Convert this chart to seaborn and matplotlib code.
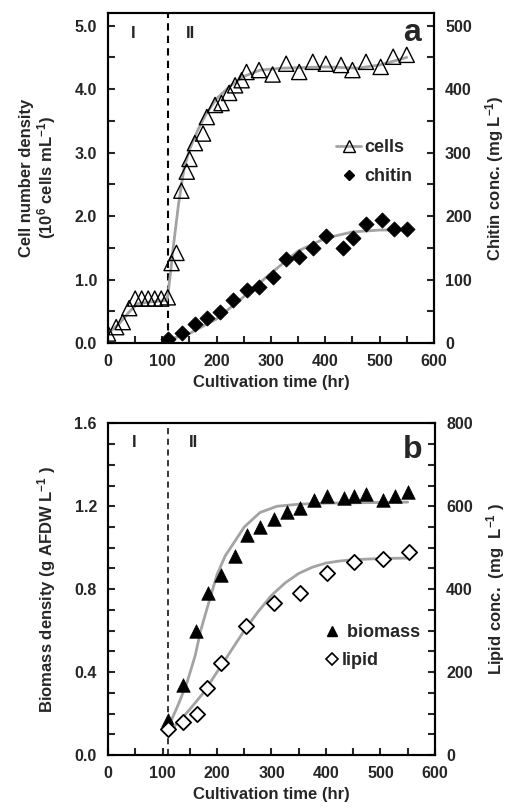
import matplotlib
matplotlib.use('Agg')
import matplotlib.pyplot as plt
from matplotlib.lines import Line2D
from matplotlib.ticker import MultipleLocator, FormatStrFormatter
import seaborn as sns

# Panel a: cells (10^6 cells/mL) and chitin (mg/L)
cells_t = [0, 15, 27, 39, 50, 62, 74, 86, 98, 110, 117, 126, 135, 145, 150, 160, 175, 182,
           197, 209, 223, 234, 246, 255, 278, 303, 328, 352, 377, 401, 429, 450, 475, 502, 525, 550]
cells_v = [0.15, 0.25, 0.33, 0.55, 0.70, 0.70, 0.70, 0.70, 0.70, 0.72, 1.26, 1.42, 2.40, 2.70,
           2.90, 3.15, 3.30, 3.56, 3.75, 3.78, 3.94, 4.06, 4.14, 4.27, 4.30, 4.23, 4.40, 4.27,
           4.43, 4.40, 4.38, 4.30, 4.43, 4.35, 4.51, 4.54]
cells_fit_t = [0, 20, 40, 55, 80, 108, 110, 115, 120, 130, 140, 150, 165, 180, 200, 225, 250,
               280, 320, 400, 460, 500, 530, 550]
cells_fit_v = [0.15, 0.30, 0.50, 0.62, 0.65, 0.67, 0.75, 1.10, 1.50, 2.20, 2.75, 3.05, 3.35,
               3.60, 3.85, 4.05, 4.20, 4.30, 4.33, 4.35, 4.33, 4.38, 4.45, 4.50]

chitin_t = [111, 136, 160, 182, 206, 231, 255, 278, 303, 328, 352, 377, 401, 432, 451, 475, 504, 527, 550]
chitin_v = [6, 16, 30, 39, 49, 67, 83, 89, 104, 132, 135, 149, 168, 149, 165, 188, 194, 179, 179]
chitin_fit_t = [110, 150, 200, 250, 300, 350, 400, 450, 500, 525]
chitin_fit_v = [5, 15, 38, 73, 110, 145, 165, 175, 178, 178]

# Panel b: biomass (g AFDW/L) and lipid (mg/L)
bio_t = [111, 137, 161, 183, 207, 233, 255, 279, 304, 329, 353, 378, 402, 433, 451, 474, 505, 527, 551]
bio_v = [0.17, 0.34, 0.60, 0.78, 0.87, 0.96, 1.06, 1.10, 1.14, 1.17, 1.19, 1.23, 1.25, 1.24,
         1.25, 1.26, 1.23, 1.25, 1.27]
bio_fit_t = [110, 130, 145, 160, 170, 181, 200, 215, 230, 250, 279, 310, 350, 400, 550]
bio_fit_v = [0.13, 0.25, 0.35, 0.48, 0.60, 0.70, 0.87, 0.96, 1.02, 1.10, 1.17, 1.20, 1.21, 1.215, 1.22]

lipid_t = [111, 137, 163, 182, 207, 254, 304, 352, 401, 451, 504, 553]
lipid_v = [64, 80, 100, 161, 222, 311, 367, 390, 439, 466, 474, 490]
lipid_fit_t = [110, 130, 150, 175, 200, 225, 250, 275, 300, 325, 350, 375, 400, 425, 450, 500, 550]
lipid_fit_v = [55, 80, 110, 150, 200, 250, 300, 345, 385, 415, 438, 453, 463, 468, 471, 474, 475]

phase_split = 110
fit_color = '#a3a3a3'
TICK_FS = 11.5
LABEL_FS = 12
LEG_FS = 13

sns.set_style('ticks')
plt.rcParams['font.family'] = ['Liberation Sans', 'DejaVu Sans']
plt.rcParams['font.weight'] = 'bold'
plt.rcParams['mathtext.fontset'] = 'custom'
plt.rcParams['mathtext.rm'] = 'Liberation Sans:bold'
plt.rcParams['mathtext.bf'] = 'Liberation Sans:bold'
plt.rcParams['mathtext.default'] = 'bf'

fig = plt.figure(figsize=(5.1, 8.09), dpi=100)
ax_a = fig.add_axes([0.2118, 0.576, 0.639, 0.408])
ax_b = fig.add_axes([0.2118, 0.0667, 0.641, 0.410])


def style_axes(ax, ax2, ymaj, ymin, y2maj, y2min):
    for a in (ax, ax2):
        for s in a.spines.values():
            s.set_linewidth(1.5)
            s.set_color('black')
    ax.set_xlim(0, 600)
    ax.xaxis.set_major_locator(MultipleLocator(100))
    ax.xaxis.set_minor_locator(MultipleLocator(50))
    ax.yaxis.set_major_locator(MultipleLocator(ymaj))
    ax.yaxis.set_minor_locator(MultipleLocator(ymin))
    ax2.yaxis.set_major_locator(MultipleLocator(y2maj))
    ax2.yaxis.set_minor_locator(MultipleLocator(y2min))
    ax.tick_params(axis='both', which='both', direction='in', length=5, width=1.5,
                   labelsize=TICK_FS, top=False, right=False)
    ax.tick_params(axis='x', which='major', pad=8)
    ax.tick_params(axis='y', which='major', pad=8)
    ax2.tick_params(axis='y', which='both', direction='in', length=5, width=1.5,
                    labelsize=TICK_FS, left=False, pad=8)
    for lab in ax.get_xticklabels() + ax.get_yticklabels() + ax2.get_yticklabels():
        lab.set_fontweight('bold')
    ax.yaxis.set_major_formatter(FormatStrFormatter('%.1f'))
    ax.set_xlabel('Cultivation time (hr)', fontsize=LABEL_FS, fontweight='bold', labelpad=4)


# ---- panel a ----
ax_a2 = ax_a.twinx()
sns.lineplot(x=cells_fit_t, y=cells_fit_v, ax=ax_a, color=fit_color, lw=2, zorder=2)
sns.scatterplot(x=cells_t, y=cells_v, ax=ax_a, marker='^', s=120, facecolor='none',
                edgecolor='black', linewidth=1, zorder=3)
sns.lineplot(x=chitin_fit_t, y=chitin_fit_v, ax=ax_a2, color=fit_color, lw=2, zorder=2)
sns.scatterplot(x=chitin_t, y=chitin_v, ax=ax_a2, marker='D', s=60, color='black',
                edgecolor='black', linewidth=0.5, zorder=3)
ax_a.set_ylim(0, 5.2)
ax_a2.set_ylim(0, 520)
ax_a.axvline(phase_split, color='black', ls=(0, (3.5, 2.5)), lw=1.5, zorder=1)
style_axes(ax_a, ax_a2, 1.0, 0.5, 100, 50)
ax_a.set_ylabel('Cell number density\n(10$^{6}$ cells mL$^{-1}$)', fontsize=LABEL_FS,
                fontweight='bold', labelpad=12, linespacing=1.05)
ax_a2.set_ylabel('Chitin conc. (mg L$^{-1}$)', fontsize=LABEL_FS, fontweight='bold', labelpad=8)
ax_a.text(46, 4.88, 'I', fontsize=12, fontweight='bold', ha='center', va='center')
ax_a.text(151, 4.88, 'II', fontsize=12, fontweight='bold', ha='center', va='center')
ax_a.text(560, 4.88, 'a', fontsize=23, fontweight='bold', ha='center', va='center')
h_a = [Line2D([], [], color=fit_color, lw=2, marker='^', ms=8.5, mfc='none', mec='black', mew=1),
       Line2D([], [], ls='none', marker='D', ms=5, color='black')]
ax_a.legend(h_a, ['cells', 'chitin'], loc='center left', bbox_to_anchor=(0.70, 0.548),
            frameon=False, prop={'size': LEG_FS, 'weight': 'bold'}, handlelength=1.4,
            handletextpad=0.15, labelspacing=0.65, borderpad=0, borderaxespad=0)

# ---- panel b ----
ax_b2 = ax_b.twinx()
sns.lineplot(x=bio_fit_t, y=bio_fit_v, ax=ax_b, color=fit_color, lw=2, zorder=2)
sns.scatterplot(x=bio_t, y=bio_v, ax=ax_b, marker='^', s=95, color='black',
                edgecolor='black', linewidth=0.5, zorder=3)
sns.lineplot(x=lipid_fit_t, y=lipid_fit_v, ax=ax_b2, color=fit_color, lw=2, zorder=2)
sns.scatterplot(x=lipid_t, y=lipid_v, ax=ax_b2, marker='D', s=60, facecolor='white',
                edgecolor='black', linewidth=1.3, zorder=3)
ax_b.set_ylim(0, 1.6)
ax_b2.set_ylim(0, 800)
ax_b.axvline(phase_split, color='black', ls=(0, (4, 3)), lw=1.1, zorder=1)
style_axes(ax_b, ax_b2, 0.4, 0.1, 200, 50)
ax_b.set_ylabel('Biomass density (g AFDW L$^{-1}$ )', fontsize=LABEL_FS, fontweight='bold', labelpad=12)
ax_b2.set_ylabel('Lipid conc.  (mg  L$^{-1}$ )', fontsize=LABEL_FS, fontweight='bold', labelpad=8)
ax_b.text(48, 1.51, 'I', fontsize=12, fontweight='bold', ha='center', va='center')
ax_b.text(156, 1.51, 'II', fontsize=12, fontweight='bold', ha='center', va='center')
ax_b.text(560, 1.47, 'b', fontsize=23, fontweight='bold', ha='center', va='center')
h_b = [Line2D([], [], ls='none', marker='^', ms=7, color='black'),
       Line2D([], [], ls='none', marker='D', ms=6, mfc='white', mec='black', mew=1.2)]
ax_b.legend(h_b, [' biomass', 'lipid'], loc='center left', bbox_to_anchor=(0.668, 0.327),
            frameon=False, prop={'size': LEG_FS, 'weight': 'bold'}, handlelength=0.6,
            handletextpad=0.25, labelspacing=0.6, borderpad=0, borderaxespad=0)

fig.savefig('out.png', dpi=100)
